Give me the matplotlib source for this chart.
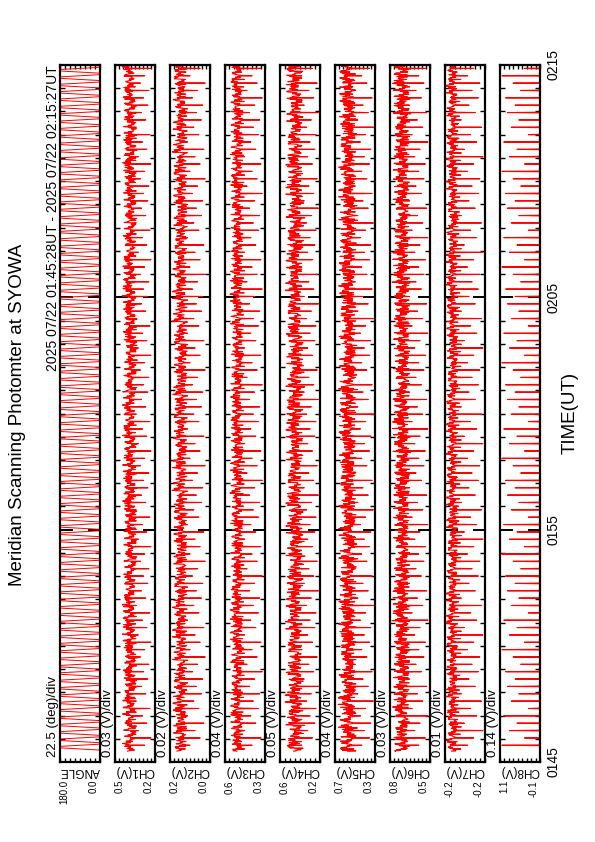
import numpy as np
import matplotlib
matplotlib.use('Agg')
import matplotlib.pyplot as plt
from matplotlib.ticker import MultipleLocator, FixedLocator

plt.rcParams['font.family'] = ['Liberation Sans', 'DejaVu Sans']

# channel settings
names = ['ANGLE', 'CH1(V)', 'CH2(V)', 'CH3(V)', 'CH4(V)', 'CH5(V)', 'CH6(V)', 'CH7(V)', 'CH8(V)']
per_div = ['22.5 (deg)/div', '0.03 (V)/div', '0.02 (V)/div', '0.04 (V)/div', '0.05 (V)/div',
           '0.04 (V)/div', '0.03 (V)/div', '0.01 (V)/div', '0.14 (V)/div']
v_max = [180.0, 0.5, 0.2, 0.63, 0.6, 0.7, 0.8, -0.16, 1.14]
v_min = [0.0, 0.2, 0.0, 0.27, 0.2, 0.3, 0.5, -0.24, -0.12]
div = [22.5, 0.03, 0.02, 0.04, 0.05, 0.04, 0.03, 0.01, 0.14]

time_ticks = [0, 10, 20, 30]
time_labels = ['0145', '0155', '0205', '0215']

# mirror angle over one back-and-forth cycle (20 samples, 0.95 s apart):
# dwell at 0, sweep to 180, dwell at 180, sweep back
angle_cycle = ([0, 0, 0, 0]
               + [30, 60, 90, 120, 150, 180]
               + [180, 180, 180, 180]
               + [150, 120, 90, 60, 30, 0])
scan_len = 20   # one spike per cycle in the photometer channels

# per-channel level of the dense trace, its spread, and where the spike reaches
core = [None, 0.388, 0.150, 0.522, 0.452, 0.574, 0.713, -0.174, -0.106]
spread = [None, 0.050, 0.034, 0.054, 0.085, 0.085, 0.060, 0.011, 0.005]
drift_amp = [None, 0.020, 0.010, 0.020, 0.025, 0.020, 0.015, 0.004, 0.0]
spike_to = [None, 0.23, 0.024, 0.295, 0.216, 0.316, 0.515, -0.236, 1.08]

# slow per-minute wander, sample jitter, spike depth
drift = [0.1, -0.2, 0.3, 0.0, -0.1, 0.2, 0.4, 0.1, -0.3, -0.2, 0.0, 0.2, 0.1, -0.1, 0.3, 0.2,
         -0.2, -0.4, 0.0, 0.1, 0.3, 0.2, -0.1, -0.3, 0.0, 0.2, 0.1, -0.2, 0.0, 0.3, 0.1, 0.0]
jitter_a = [0.2, -0.6, 0.9, -0.1, 0.4, -0.9, 0.6, 0.0, -0.4, 0.8, -0.7, 0.3, -0.2, 1.0, -0.5,
            0.1, 0.7, -0.8, 0.5, -0.3, 0.0, 0.6, -1.0]
jitter_b = [-0.3, 0.8, 0.1, -1.0, 0.5, -0.2, 0.9, -0.6, 0.3, 0.0, -0.8, 0.6, -0.4, 1.0, -0.1,
            0.4, -0.7]
dip = [0.9, 0.5, 0.7, 1.0, 0.4, 0.8, 0.6, 0.95, 0.3, 0.75, 0.55, 0.85, 0.65]

n_samp = 1900
t = 28 / 60 + np.arange(n_samp) * 0.95 / 60   # minutes after 01:45

series = []
for c in range(9):
    vals = []
    for i in range(n_samp):
        if c == 0:
            vals.append(angle_cycle[i % len(angle_cycle)])
            continue
        s, k = divmod(i, scan_len)
        m = min(int(t[i]), len(drift) - 1)
        j = 0.6 * jitter_a[(7 * i + s + 3 * c) % len(jitter_a)] + \
            0.5 * jitter_b[(5 * i + 2 * s + c) % len(jitter_b)]
        v = core[c] + drift_amp[c] * drift[m] + spread[c] * j
        if k == 16:
            v = core[c] + (spike_to[c] - core[c]) * dip[(s + 2 * c) % len(dip)]
        elif k == 6 and c < 8:
            v = core[c] + (spike_to[c] - core[c]) * 0.3 * dip[(3 * s + c) % len(dip)]
        vals.append(v)
    series.append(np.array(vals))

W, H = 595, 842
fig = plt.figure(figsize=(W / 100, H / 100), dpi=100)

for i in range(9):
    left = 60 + 55 * i
    ax = fig.add_axes([left / W, 80 / H, 40 / W, 697 / H])
    ax.plot(series[i], t, color='red', lw=0.8 if i else 0.7)
    ax.set_xlim(v_max[i], v_min[i])
    ax.set_ylim(0, 30)
    for sp in ax.spines.values():
        sp.set_linewidth(1.6)
    n_div = int(round((v_max[i] - v_min[i]) / div[i]))
    ax.xaxis.set_major_locator(FixedLocator([v_min[i] + k * div[i] for k in range(n_div + 1)]))
    ax.tick_params(axis='x', which='both', direction='in', top=True, bottom=True,
                   length=3, width=1, labelbottom=False)
    ax.set_yticks(time_ticks)
    ax.yaxis.set_minor_locator(MultipleLocator(1))
    ax.tick_params(axis='y', which='major', direction='in', left=True, right=True,
                   length=9, width=1.4, labelleft=False, labelright=(i == 8))
    ax.tick_params(axis='y', which='minor', direction='in', left=True, right=True,
                   length=3.5, width=1)
    if i == 8:
        ax.set_yticklabels(time_labels)
        ax.tick_params(axis='y', which='major', labelsize=10, pad=5, labelrotation=90)
        for lab in ax.get_yticklabels():
            lab.set_va('center')

    fig.text((left + 4.5) / W, (H - 780) / H, '%.1f' % v_max[i], rotation=90,
             ha='center', va='top', fontsize=7)
    fig.text((left + 34) / W, (H - 780) / H, '%.1f' % v_min[i], rotation=90,
             ha='center', va='top', fontsize=7)
    fig.text((left + 20) / W, (H - 771) / H, names[i], rotation=180,
             ha='center', va='center', fontsize=8.5)
    fig.text((left - 7) / W, (H - 757) / H, per_div[i], rotation=90,
             ha='center', va='bottom', fontsize=9.5)

fig.text(18 / W, (H - 415) / H, 'Meridian Scanning Photomter at SYOWA', rotation=90,
         ha='center', va='center', fontsize=13.5)
fig.text(53 / W, (H - 65) / H, '2025 07/22 01:45:28UT - 2025 07/22 02:15:27UT',
         rotation=90, ha='center', va='top', fontsize=10)
fig.text(570 / W, (H - 413) / H, 'TIME(UT)', rotation=90, ha='center', va='center',
         fontsize=13.5)

fig.savefig('out.png', dpi=100)
